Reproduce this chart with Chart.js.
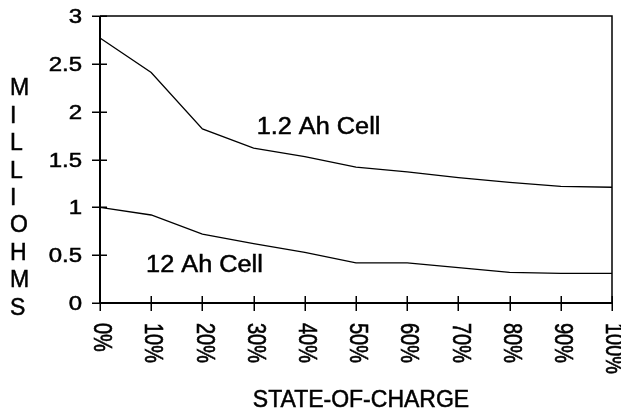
<!DOCTYPE html>
<html>
<head>
<meta charset="utf-8">
<title>Cell resistance vs state of charge</title>
<script src="https://cdn.jsdelivr.net/npm/chart.js@4.4.1/dist/chart.umd.min.js"></script>
<style>
  html, body { margin: 0; padding: 0; background: #fff; }
  #wrap { width: 621px; height: 410px; }
</style>
</head>
<body>
<div id="wrap"><canvas id="chart" width="621" height="410"></canvas></div>
<script>
// State of charge (%) at which resistance was measured
const stateOfCharge = [0, 10, 20, 30, 40, 50, 60, 70, 80, 90, 100];
// Internal resistance, milliohms
const cellSmall = [2.77, 2.41, 1.82, 1.62, 1.53, 1.42, 1.37, 1.31, 1.26, 1.22, 1.21];
const cellLarge = [1.0, 0.92, 0.72, 0.62, 0.53, 0.42, 0.42, 0.37, 0.32, 0.31, 0.31];
const seriesNames = ['1.2 Ah Cell', '12 Ah Cell'];
// Axis text
const xTickLabels = ['0%', '10%', '20%', '30%', '40%', '50%', '60%', '70%', '80%', '90%', '100%'];
const yTickValues = [0, 0.5, 1, 1.5, 2, 2.5, 3];
const yTickLabels = ['0', '0.5', '1', '1.5', '2', '2.5', '3'];
const yTitle = 'MILLIOHMS';
const xTitle = 'STATE-OF-CHARGE';

const FONT = '"Liberation Sans", Arial, Helvetica, sans-serif';

function putText(ctx, str, px, py, o) {
  ctx.save();
  ctx.translate(px, py);
  ctx.scale(o.sx || 1, 1);
  if (o.rot) ctx.rotate(o.rot);
  ctx.font = o.size + 'px ' + FONT;
  ctx.textAlign = o.align || 'left';
  ctx.textBaseline = o.base || 'alphabetic';
  ctx.fillStyle = '#000';
  ctx.strokeStyle = '#000';
  ctx.lineWidth = 0.5;
  ctx.fillText(str, 0, 0);
  ctx.strokeText(str, 0, 0);
  ctx.restore();
}

// Frame, crossing tick marks and all axis / series text
const figureDecor = {
  id: 'figureDecor',
  afterDatasetsDraw(chart) {
    const { ctx, chartArea: a, scales: { x, y } } = chart;
    ctx.save();
    ctx.strokeStyle = '#000';
    ctx.lineCap = 'butt';

    // top and right edges of the frame
    ctx.lineWidth = 1.5;
    ctx.beginPath();
    ctx.moveTo(a.left, a.top);
    ctx.lineTo(a.right, a.top);
    ctx.lineTo(a.right, a.bottom);
    ctx.stroke();

    // value axis and category axis
    ctx.lineWidth = 2;
    ctx.beginPath();
    ctx.moveTo(a.left, a.top);
    ctx.lineTo(a.left, a.bottom);
    ctx.lineTo(a.right, a.bottom);
    ctx.stroke();

    // tick marks crossing the axes
    ctx.lineWidth = 1.5;
    ctx.beginPath();
    yTickValues.forEach(v => {
      const py = Math.round(y.getPixelForValue(v)) + 0.25;
      ctx.moveTo(a.left - 8, py);
      ctx.lineTo(a.left + 7, py);
    });
    stateOfCharge.forEach(s => {
      const px = Math.round(x.getPixelForValue(s)) + 0.25;
      ctx.moveTo(px, a.bottom - 7);
      ctx.lineTo(px, a.bottom + 8);
    });
    ctx.stroke();
    ctx.restore();

    // value axis labels
    yTickValues.forEach((v, i) => {
      putText(ctx, yTickLabels[i], a.left - 18, y.getPixelForValue(v) + 7,
        { size: 20, sx: 1.2, align: 'right' });
    });

    // state-of-charge labels, turned to read downward
    stateOfCharge.forEach((s, i) => {
      putText(ctx, xTickLabels[i], x.getPixelForValue(s) + 1, a.bottom + 20,
        { size: 20, sx: 1.25, rot: Math.PI / 2, align: 'left', base: 'middle' });
    });

    // stacked value-axis title
    yTitle.split('').forEach((ch, i) => {
      putText(ctx, ch, 10, 95.3 + 27.4 * i, { size: 23, align: 'left' });
    });

    // category axis title
    putText(ctx, xTitle, (a.left + a.right) / 2 + 5, chart.height - 3.5,
      { size: 23, align: 'center' });

    // series names beside their curves
    putText(ctx, seriesNames[0], x.getPixelForValue(30.6), y.getPixelForValue(1.77),
      { size: 23, sx: 1.1 });
    putText(ctx, seriesNames[1], x.getPixelForValue(9.0), y.getPixelForValue(0.32),
      { size: 23, sx: 1.1 });
  }
};

const points = vals => stateOfCharge.map((s, i) => ({ x: s, y: vals[i] }));

new Chart(document.getElementById('chart'), {
  type: 'line',
  data: {
    datasets: [
      { label: seriesNames[0], data: points(cellSmall) },
      { label: seriesNames[1], data: points(cellLarge) }
    ]
  },
  options: {
    responsive: false,
    animation: false,
    devicePixelRatio: 1,
    layout: { padding: { left: 100, top: 16, right: 9, bottom: 107 } },
    elements: {
      line: { borderColor: '#000', borderWidth: 1.3, tension: 0, fill: false },
      point: { radius: 0, hoverRadius: 0 }
    },
    scales: {
      x: { type: 'linear', min: 0, max: 100, display: false },
      y: { type: 'linear', min: 0, max: 3, display: false }
    },
    plugins: {
      legend: { display: false },
      tooltip: { enabled: false }
    },
    events: []
  },
  plugins: [figureDecor]
});
</script>
</body>
</html>
